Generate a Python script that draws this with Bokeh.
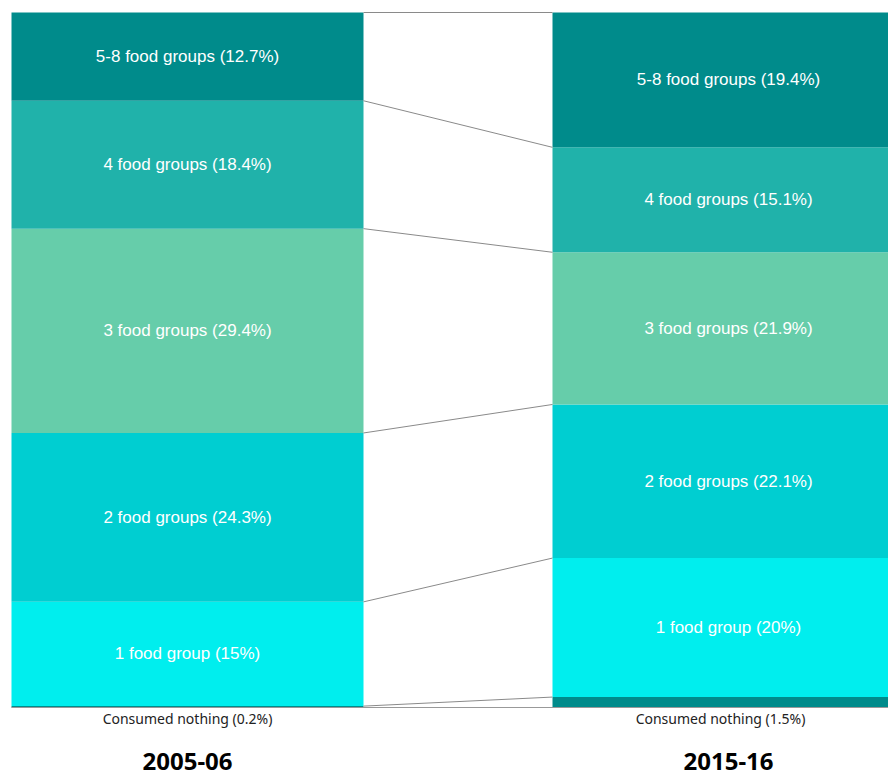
import numpy as np
from bokeh.plotting import figure
from bokeh.models import ColumnDataSource, Range1d
from bokeh.core.properties import value
from bokeh.embed import file_html
from bokeh.resources import INLINE

years = ["2005-06", "2015-16"]
groups = ["Consumed nothing", "1 food group", "2 food groups", "3 food groups", "4 food groups", "5-8 food groups"]
labels_05 = ["Consumed nothing (0.2%)", "1 food group (15%)", "2 food groups (24.3%)", "3 food groups (29.4%)", "4 food groups (18.4%)", "5-8 food groups (12.7%)"]
labels_15 = ["Consumed nothing (1.5%)", "1 food group (20%)", "2 food groups (22.1%)", "3 food groups (21.9%)", "4 food groups (15.1%)", "5-8 food groups (19.4%)"]
values_05 = [0.2, 15.0, 24.3, 29.4, 18.4, 12.7]
values_15 = [1.5, 20.0, 22.1, 21.9, 15.1, 19.4]
colors = ["#008B8B", "#00EEEE", "#00CED1", "#66CDAA", "#20B2AA", "#008B8B"]

# layout (pixel-like x coordinates)
bar_left = [11, 552]
bar_w = 352
W, H = 888, 778
px_per_unit = 6.95
y_top = 100 + 12 / px_per_unit
y_bot = -71 / px_per_unit

p = figure(width=W, height=H, output_backend="svg", toolbar_location=None,
           x_range=Range1d(0, W), y_range=Range1d(y_bot, y_top),
           min_border=0, min_border_left=0, min_border_right=0,
           min_border_top=0, min_border_bottom=0)
p.axis.visible = False
p.grid.visible = False
p.outline_line_color = None

all_vals = [values_05, values_15]
all_labels = [labels_05, labels_15]
tops_all = []
for i, vals in enumerate(all_vals):
    v = np.array(vals)
    tops = np.cumsum(v)
    bottoms = tops - v
    tops_all.append(np.concatenate([[0], tops]))
    src = ColumnDataSource(dict(left=[bar_left[i]] * len(v), right=[bar_left[i] + bar_w] * len(v),
                                bottom=bottoms, top=tops, color=colors))
    p.quad(left="left", right="right", bottom="bottom", top="top", fill_color="color",
           line_color=None, source=src)
    cx = bar_left[i] + bar_w / 2
    lab = all_labels[i]
    p.text(x=[cx] * 5, y=list((bottoms[1:] + tops[1:]) / 2), text=lab[1:],
           text_color="white", text_font=value("Liberation Sans"), text_font_size="17px",
           text_align="center", text_baseline="middle")

# connectors
xl = bar_left[0] + bar_w
xr = bar_left[1]
for a, b in zip(tops_all[0][1:], tops_all[1][1:]):
    p.line(x=[xl, xr], y=[a, b], line_color="#8a8a8a", line_width=1)
p.line(x=[11, W], y=[0, 0], line_color="#999999", line_width=1.2)

# bottom labels
p.text(x=[bar_left[0] + bar_w / 2, 720], y=[-11 / px_per_unit] * 2,
       text=[labels_05[0], labels_15[0]], text_color="#222222",
       text_font=value("Noto Sans"), text_font_size="14px",
       text_align="center", text_baseline="middle")
p.text(x=[bar_left[0] + bar_w / 2, bar_left[1] + bar_w / 2], y=[-54 / px_per_unit] * 2,
       text=years, text_color="black", text_font=value("Noto Sans"), text_font_size="24px",
       text_font_style="bold", text_align="center", text_baseline="middle")

open("out.html", "w").write(file_html(p, INLINE))
